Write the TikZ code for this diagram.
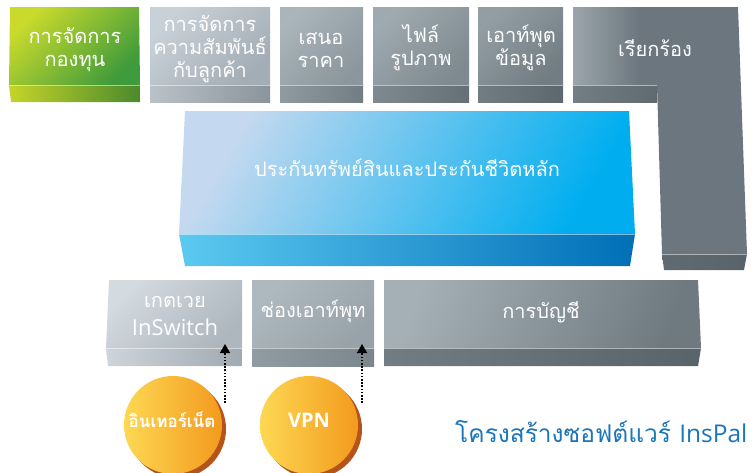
\documentclass[tikz,border=0pt]{standalone}
\usepackage{fontspec}
\newfontfamily\thai[Script=Thai]{Loma}
\newfontfamily\latin{Open Sans}
\usetikzlibrary{arrows.meta}
\definecolor{gA}{HTML}{C9DA2C}
\definecolor{gB}{HTML}{3F9B3B}
\definecolor{gsA}{HTML}{C5D42A}
\definecolor{gsB}{HTML}{4A8A2C}
\definecolor{bA}{HTML}{C4D9EF}
\definecolor{bB}{HTML}{00AEEF}
\definecolor{bsA}{HTML}{5CC9F1}
\definecolor{bsB}{HTML}{006FB7}
\definecolor{oA}{HTML}{FDD852}
\definecolor{oB}{HTML}{F39A1E}
\definecolor{oS}{HTML}{B4531C}
\definecolor{ttl}{HTML}{1B75BB}
\definecolor{k2a}{HTML}{C9D1D8}\definecolor{k2b}{HTML}{A3ADB5}\definecolor{k2c}{HTML}{BAC2C8}\definecolor{k2d}{HTML}{8A949B}
\definecolor{k3a}{HTML}{AAB4BB}\definecolor{k3b}{HTML}{8B969D}\definecolor{k3c}{HTML}{8F9AA1}\definecolor{k3d}{HTML}{717C83}
\definecolor{k4a}{HTML}{9EA9B0}\definecolor{k4b}{HTML}{7E8990}\definecolor{k4c}{HTML}{7E8990}\definecolor{k4d}{HTML}{646F76}
\definecolor{k5a}{HTML}{929DA4}\definecolor{k5b}{HTML}{717C83}\definecolor{k5c}{HTML}{717C83}\definecolor{k5d}{HTML}{5C676E}
\definecolor{k6a}{HTML}{9BA5AB}\definecolor{k6b}{HTML}{6B767E}\definecolor{k6c}{HTML}{737D84}\definecolor{k6d}{HTML}{5F6A71}\definecolor{k6e}{HTML}{58636A}
\definecolor{q1a}{HTML}{D3DAE0}\definecolor{q1b}{HTML}{AEB7BE}\definecolor{q1c}{HTML}{CDD4DA}\definecolor{q1d}{HTML}{A1AAB1}
\definecolor{q2a}{HTML}{AEB8BF}\definecolor{q2b}{HTML}{97A2A9}\definecolor{q2c}{HTML}{909BA2}\definecolor{q2d}{HTML}{7A858C}
\definecolor{q3a}{HTML}{A5AFB6}\definecolor{q3b}{HTML}{6E7980}\definecolor{q3c}{HTML}{717C83}\definecolor{q3d}{HTML}{58636A}
\tikzset{
  x=1pt,y=-1pt,
  lbl/.style={text=white,font=\thai\fontsize{20}{23}\selectfont,align=center,inner sep=0pt},
  edge/.style={draw=white,draw opacity=0.5,line width=0.6pt},
  dotarrow/.style={line width=1.6pt,dash pattern=on 1.6pt off 1.6pt,-{Triangle[width=10pt,length=9pt]}},
}
\begin{document}
\begin{tikzpicture}
\useasboundingbox (0,0) rectangle (754,472);
% ---- top row ----
\shade[top color=gA,bottom color=gB,shading angle=45] (10,7) -- (139,7) -- (140,85) -- (9,85) -- cycle;
\shade[left color=gsA,right color=gsB] (9,85) -- (140,85) -- (140,102) -- (11,102) -- cycle;
\draw[edge] (9,85) -- (140,85);
\shade[top color=k2a, bottom color=k2b, shading angle=45] (150,7) rectangle (270,85);
\shade[left color=k2c, right color=k2d] (150,85) rectangle (270,102);
\draw[edge] (150,85) -- (270,85);
\shade[top color=k3a, bottom color=k3b, shading angle=45] (280,7) rectangle (363,85);
\shade[left color=k3c, right color=k3d] (280,85) rectangle (363,102);
\draw[edge] (280,85) -- (363,85);
\shade[top color=k4a, bottom color=k4b, shading angle=45] (373,7) rectangle (469,85);
\shade[left color=k4c, right color=k4d] (373,85) rectangle (469,102);
\draw[edge] (373,85) -- (469,85);
\shade[top color=k5a, bottom color=k5b, shading angle=45] (478,7) rectangle (563,85);
\shade[left color=k5c, right color=k5d] (478,85) rectangle (563,102);
\draw[edge] (478,85) -- (563,85);
% box 6 L-shape
\shade[left color=k6a, right color=k6b] (573,7) rectangle (640,85);
\fill[k6b] (640,7) -- (738,7) -- (747,254) -- (662,254) -- (657,85) -- (640,85) -- cycle;
\shade[left color=k6c, right color=k6d] (573,85) rectangle (657,102);
\shade[left color=k6d, right color=k6e] (662,254) -- (747,254) -- (744,270) -- (664,270) -- cycle;
\draw[edge] (573,85) -- (657,85);
\draw[edge] (662,254) -- (747,254);
% ---- middle blue ----
\shade[top color=bA,bottom color=bB,shading angle=60] (185,111) -- (629,111) -- (635,234) -- (179,234) -- cycle;
\shade[left color=bsA,right color=bsB] (179,234) -- (635,234) -- (630,266) -- (185,266) -- cycle;
\draw[edge] (179,234) -- (635,234);
% ---- bottom row ----
\shade[top color=q1a, bottom color=q1b, shading angle=45] (109,280) -- (242,280) -- (242,348) -- (106,348) -- cycle;
\shade[left color=q1c, right color=q1d] (106,348) -- (242,348) -- (242,366) -- (108,366) -- cycle;
\draw[edge] (106,348) -- (242,348);
\shade[top color=q2a, bottom color=q2b, shading angle=45] (252,280) rectangle (374,348);
\shade[left color=q2c, right color=q2d] (252,348) rectangle (374,366);
\draw[edge] (252,348) -- (374,348);
\shade[top color=q3a, bottom color=q3b, shading angle=70] (384,280) -- (698,280) -- (701,348) -- (384,348) -- cycle;
\shade[left color=q3c, right color=q3d] (384,348) -- (701,348) -- (698,366) -- (384,366) -- cycle;
\draw[edge] (384,348) -- (701,348);
% ---- labels ----
\node[lbl] (t1) at (75,50) {การจัดการ\\กองทุน};
\node[lbl] (t2) at (210,49) {การจัดการ\\ความสัมพันธ์\\กับลูกค้า};
\node[lbl] (t3) at (321,50) {เสนอ\\ราคา};
\node[lbl] (t4) at (421,48) {ไฟล์\\รูปภาพ};
\node[lbl] (t5) at (521,48) {เอาท์พุต\\ข้อมูล};
\node[lbl] (t6) at (655,48) {เรียกร้อง};
\node[lbl] (tm) at (407,168) {ประกันทรัพย์สินและประกันชีวิตหลัก};
\node[lbl] (tb1a) at (175,302) {เกตเวย};
\node[lbl,font=\latin\fontsize{22}{23}\selectfont] (tb1b) at (175,327) {InSwitch};
\node[lbl] (tb2) at (313,311) {ช่องเอาท์พุท};
\node[lbl] (tb3) at (541,312) {การบัญชี};
% ---- circles ----
\fill[oS] (177,429) circle (49);
\shade[left color=oA,right color=oB] (173,425) circle (49);
\node[text=white,font=\thai\bfseries\fontsize{17}{20}\selectfont,inner sep=0pt] (c1) at (172,420) {อินเทอร์เน็ต};
\fill[oS] (313,429) circle (49);
\shade[left color=oA,right color=oB] (309,425) circle (49);
\node[text=white,font=\latin\bfseries\fontsize{20}{22}\selectfont,inner sep=0pt] (c2) at (309,420) {VPN};
% ---- arrows ----
\coordinate (a1s) at (225,403);
\coordinate (a1e) at (225,344);
\coordinate (a2s) at (362,403);
\coordinate (a2e) at (362,344);
\draw[dotarrow] (a1s) -- (a1e);
\draw[dotarrow] (a2s) -- (a2e);
% ---- title ----
\node[anchor=base west,text=ttl,inner sep=0pt,font=\fontsize{24.5}{28}\selectfont] (title) at (455,442) {\thai โครงสร้างซอฟต์แวร์ {\latin InsPal}};
\end{tikzpicture}
\end{document}
